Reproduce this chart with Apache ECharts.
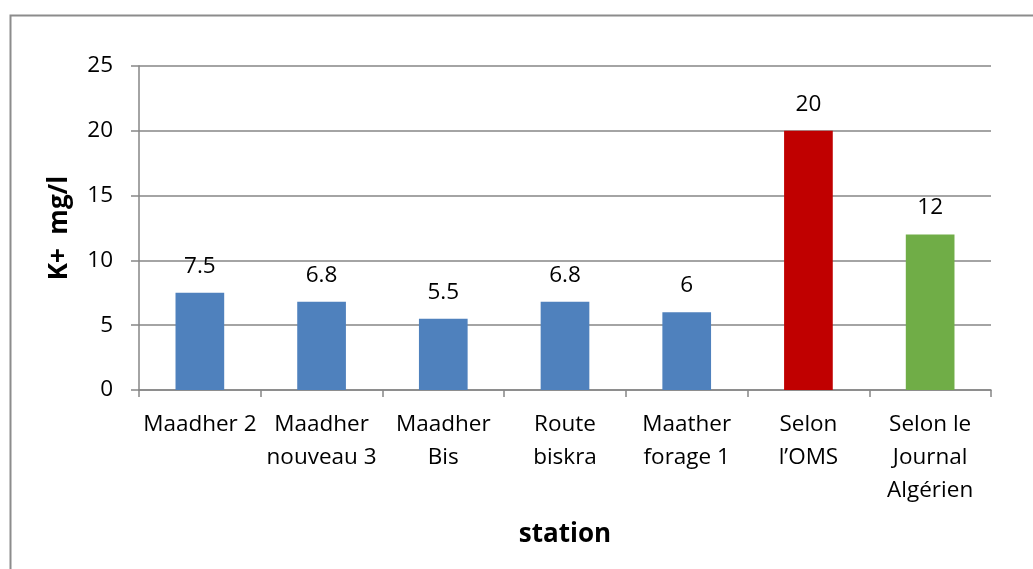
<!DOCTYPE html>
<html><head><meta charset="utf-8">
<script src="https://cdn.jsdelivr.net/npm/echarts@6/dist/echarts.min.js"></script>
<style>html,body{margin:0;padding:0;background:#fff}#c{width:1033px;height:569px}</style>
</head><body><div id="c"></div>
<script>
const categories = ['Maadher 2', 'Maadher\nnouveau 3', 'Maadher\nBis', 'Route\nbiskra', 'Maather\nforage 1', 'Selon\nl\u2019OMS', 'Selon le\nJournal\nAlg\u00e9rien'];
const values = [7.5, 6.8, 5.5, 6.8, 6, 20, 12];
const labels = ['7.5', '6.8', '5.5', '6.8', '6', '20', '12'];
const colors = ['#4f81bd', '#4f81bd', '#4f81bd', '#4f81bd', '#4f81bd', '#c00000', '#70ad47'];
const yTicks = [0, 5, 10, 15, 20, 25];

const font = '"Open Sans", sans-serif';
const chart = echarts.init(document.getElementById('c'), null, {renderer: 'canvas'});
chart.setOption({
  animation: false,
  backgroundColor: '#fff',
  graphic: [{
    type: 'rect', left: 8, top: 13, shape: {width: 1060, height: 600},
    style: {fill: 'none', stroke: '#8c8c8c', lineWidth: 2}, silent: true
  }],
  grid: {left: 139, right: 42, top: 66, bottom: 179, containLabel: false},
  xAxis: {
    type: 'category', data: categories,
    name: 'station', nameLocation: 'middle', nameGap: 132,
    nameTextStyle: {fontFamily: font, fontSize: 26, fontWeight: 'bold', color: '#000'},
    axisLine: {lineStyle: {color: '#868686', width: 1.5}},
    axisTick: {show: true, length: 7, lineStyle: {color: '#868686', width: 1.5}},
    axisLabel: {fontFamily: font, fontSize: 22.5, color: '#000', lineHeight: 33, margin: 18, interval: 0}
  },
  yAxis: {
    type: 'value', min: 0, max: 25, interval: 5,
    name: 'K+  mg/l', nameLocation: 'middle', nameGap: 66, nameRotate: 90,
    nameTextStyle: {fontFamily: font, fontSize: 26, fontWeight: 'bold', color: '#000'},
    axisLine: {show: true, lineStyle: {color: '#868686', width: 1.5}},
    axisTick: {show: true, length: 8, lineStyle: {color: '#868686', width: 1.5}},
    axisLabel: {fontFamily: font, fontSize: 22.5, color: '#000', margin: 26,
      formatter: v => yTicks.includes(v) ? String(v) : ''},
    splitLine: {show: true, lineStyle: {color: '#868686', width: 1.5}}
  },
  series: [{
    type: 'bar', barWidth: '40%',
    data: values.map((v, i) => ({value: v, itemStyle: {color: colors[i]}})),
    label: {show: true, position: 'top', distance: 15, fontFamily: font, fontSize: 22.5, color: '#000',
      formatter: p => labels[p.dataIndex]}
  }]
});
</script></body></html>
